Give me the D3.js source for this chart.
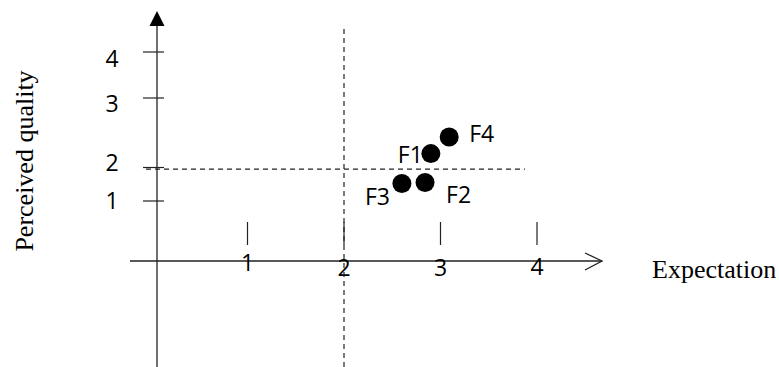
<!DOCTYPE html>
<html><head><meta charset="utf-8">
<script src="https://cdn.jsdelivr.net/npm/d3@7"></script>
<style>body{margin:0;background:#fff}svg{display:block}</style>
</head><body>
<script>
// Data
const xTicks = [1, 2, 3, 4];
const yTicks = [1, 2, 3, 4];
const firms = ["F1", "F2", "F3", "F4"];
const expectation = [2.90, 2.84, 2.60, 3.09];
const perceivedQuality = [2.20, 1.55, 1.52, 2.44];
const refExpectation = 2;
const refQuality = 1.95;
const xTitle = "Expectation";
const yTitle = "Perceived quality";

const W = 779, H = 367;
const svg = d3.select("body").append("svg").attr("width", W).attr("height", H);

const x = d3.scaleLinear().domain([1, 4]).range([247.5, 537]);
// hand-drawn diagram: irregular vertical tick spacing
const y = d3.scaleLinear().domain([1, 2, 3, 4]).range([201, 167.5, 98, 52]);

const axisX = 157, axisY = 261;
const labelFont = "'Open Sans', sans-serif";
const labelSize = 23;

// layout offsets (pixels)
const yLabelDy = {1: 8, 2: 3, 3: 14, 4: 15};
const xLabelBase = {1: 271, 2: 276, 3: 276, 4: 275};
const labelOffset = {F1: [-33, 9.5], F2: [21, 20], F3: [-37, 21], F4: [20, 5]};

// horizontal axis
svg.append("line").attr("x1", 130).attr("x2", 602).attr("y1", axisY).attr("y2", axisY)
  .attr("stroke", "#222").attr("stroke-width", 1.3);
svg.append("path").attr("d", `M585,253 L602,${axisY} L585,270`).attr("fill", "none")
  .attr("stroke", "#222").attr("stroke-width", 1.3);
// vertical axis
svg.append("line").attr("x1", axisX).attr("x2", axisX).attr("y1", 22).attr("y2", 367)
  .attr("stroke", "#222").attr("stroke-width", 1.3);
svg.append("path").attr("d", `M${axisX},11 L${axisX + 7.5},26 L${axisX - 7.5},26 Z`).attr("fill", "#000");

// x ticks
const gx = svg.append("g");
gx.selectAll("line").data(xTicks).join("line")
  .attr("x1", d => x(d)).attr("x2", d => x(d)).attr("y1", 222).attr("y2", 245)
  .attr("stroke", "#222").attr("stroke-width", 1.2);
gx.selectAll("text").data(xTicks).join("text")
  .attr("x", d => x(d)).attr("y", d => xLabelBase[d]).attr("text-anchor", "middle")
  .attr("font-family", labelFont).attr("font-size", labelSize).attr("fill", "#000").text(d => d);

// y ticks
const gy = svg.append("g");
gy.selectAll("line").data(yTicks).join("line")
  .attr("x1", 143).attr("x2", 164).attr("y1", d => y(d)).attr("y2", d => y(d))
  .attr("stroke", "#222").attr("stroke-width", 1.2);
gy.selectAll("text").data(yTicks).join("text")
  .attr("x", 112).attr("y", d => y(d) + yLabelDy[d])
  .attr("text-anchor", "middle")
  .attr("font-family", labelFont).attr("font-size", labelSize).attr("fill", "#000").text(d => d);

// dashed reference lines
svg.append("line").attr("x1", x(refExpectation)).attr("x2", x(refExpectation)).attr("y1", 29).attr("y2", 367)
  .attr("stroke", "#222").attr("stroke-width", 1.2).attr("stroke-dasharray", "5,4");
svg.append("line").attr("x1", 146).attr("x2", 525).attr("y1", y(refQuality)).attr("y2", y(refQuality))
  .attr("stroke", "#222").attr("stroke-width", 1.2).attr("stroke-dasharray", "5,4");

// points
const pts = firms.map((f, i) => ({f, ex: expectation[i], q: perceivedQuality[i]}));
svg.selectAll("circle.pt").data(pts).join("circle").attr("class", "pt")
  .attr("cx", d => x(d.ex)).attr("cy", d => y(d.q)).attr("r", 9.5).attr("fill", "#000");

svg.selectAll("text.lab").data(pts).join("text").attr("class", "lab")
  .attr("x", d => x(d.ex) + labelOffset[d.f][0]).attr("y", d => y(d.q) + labelOffset[d.f][1])
  .attr("font-family", labelFont).attr("font-size", labelSize).attr("fill", "#000").text(d => d.f);

// titles
svg.append("text").attr("x", 652).attr("y", 278)
  .attr("font-family", "'Liberation Serif', 'Times New Roman', serif").attr("font-size", 26)
  .attr("fill", "#000").text(xTitle);
svg.append("text").attr("transform", "translate(33,161) rotate(-90)").attr("text-anchor", "middle")
  .attr("font-family", "'Liberation Serif', 'Times New Roman', serif").attr("font-size", 26)
  .attr("fill", "#000").text(yTitle);
</script>
</body></html>
